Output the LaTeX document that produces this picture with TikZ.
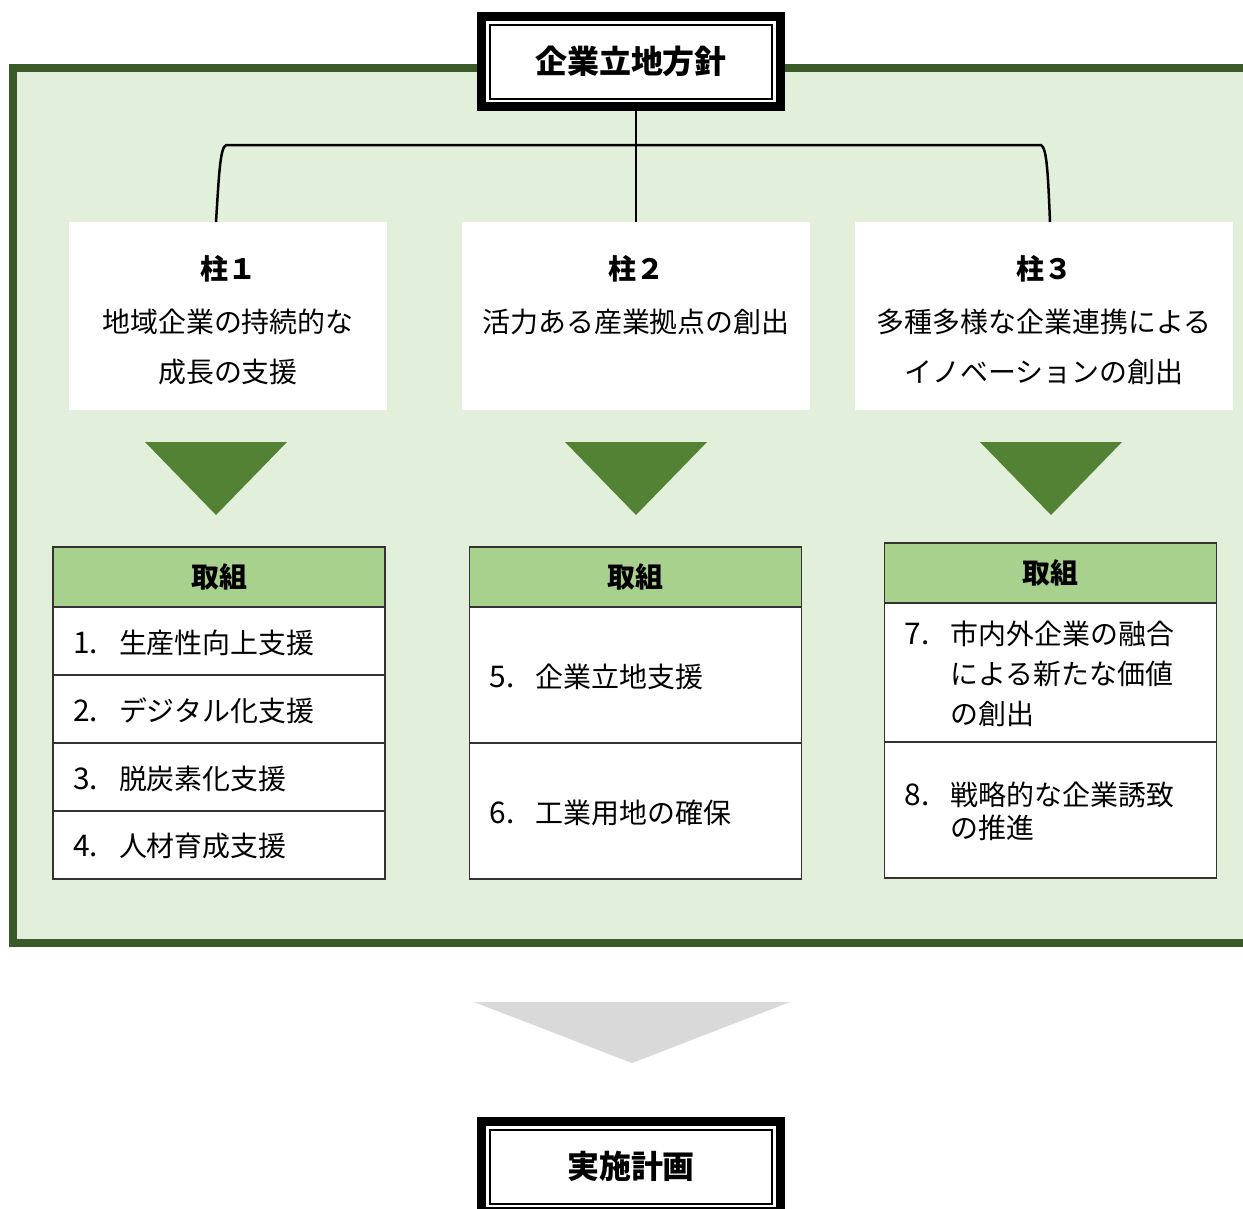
\documentclass[tikz,border=0pt]{standalone}
\usepackage{fontspec}
\setmainfont{Noto Sans CJK JP}
\usetikzlibrary{positioning}

\definecolor{framegreen}{HTML}{3B5A27}
\definecolor{framefill}{HTML}{E2EFDA}
\definecolor{headgreen}{HTML}{A9D18E}
\definecolor{arrowgreen}{HTML}{548235}
\definecolor{arrowgray}{HTML}{D9D9D9}

\newcommand{\numitem}[2]{\raisebox{0pt}[\dimexpr\height+0.2cm][\depth]{%
  \makebox[0.92cm][l]{\fontsize{17}{20}\selectfont #1}\begin{tabular}[t]{@{}l@{}}#2\end{tabular}}}

\tikzset{
  titlebox/.style={draw=black, line width=0.18cm, fill=white, minimum width=5.98cm,
    minimum height=1.8cm, inner sep=0pt, outer sep=0pt, font=\fontsize{18.2}{22}\selectfont\bfseries},
  titleinner/.style={draw=black, line width=0.04cm, minimum width=5.64cm, minimum height=1.48cm, inner sep=0pt},
  pillar/.style={fill=white, minimum width=#1, minimum height=3.76cm, align=center, inner sep=0pt,
    outer sep=0pt, font=\fontsize{15.9}{28.5}\selectfont},
  headbox/.style={draw=black!80, line width=0.03cm, fill=headgreen, minimum width=6.64cm,
    minimum height=1.2cm, outer sep=0pt, font=\fontsize{15.9}{20}\selectfont\bfseries},
  rowbox/.style={draw=black!80, line width=0.03cm, fill=white, minimum height=#1, text width=5.84cm,
    inner xsep=0.4cm, inner ysep=0pt, align=left, outer sep=0pt, font=\fontsize{15.9}{20}\selectfont},
  bracket/.style={draw=black, line width=0.05cm},
  tridown/.style={fill=arrowgreen}
}

\begin{document}
\begin{tikzpicture}[x=0.02cm, y=-0.02cm]
  \useasboundingbox (0,0) rectangle (1243,1208);
  \clip (0,0) rectangle (1243,1208);

  % green frame
  \filldraw[fill=framefill, draw=framegreen, line width=0.15cm] (13,68) rectangle (1275,943);

  % pillars
  \node[pillar=6.36cm] (p1) at (228,316) {\rule{0pt}{0.66cm}\textbf{柱１}\\[1.5pt]地域企業の持続的な\\成長の支援};
  \node[pillar=6.96cm] (p2) at (636,316) {\rule{0pt}{0.66cm}\textbf{柱２}\\[1.5pt]活力ある産業拠点の創出\\\phantom{成}};
  \node[pillar=7.56cm] (p3) at (1044,316) {\rule{0pt}{0.66cm}\textbf{柱３}\\[1.5pt]多種多様な企業連携による\\イノベーションの創出};

  % title
  \node[titlebox] (top) at (631,61.5) {\raisebox{-0.05cm}{企業立地方針}};
  \node[titleinner] (topin) at (top) {};

  % connectors
  \coordinate[xshift=-0.24cm] (b1) at (p1.north);
  \coordinate[xshift=0.12cm] (b3) at (p3.north);
  \coordinate (j1) at (226,145);
  \coordinate (j3) at (1041,145);
  \draw[bracket] (top.south -| p2.north) -- (p2.north);
  \draw[bracket] (b1) .. controls (219,175) and (220,148) .. (j1) -- (j3)
    .. controls (1047,148) and (1048,175) .. (b3);

  % arrows
  \foreach \x in {216,636,1051}
    \fill[tridown] (\x-71,442) -- (\x+71,442) -- (\x,515) -- cycle;

  % pillar 1
  \node[headbox] (h1) at (219,577) {取組};
  \node[rowbox=1.36cm, below=0cm of h1] (r1) {\numitem{1.}{生産性向上支援}};
  \node[rowbox=1.36cm, below=0cm of r1] (r2) {\numitem{2.}{デジタル化支援}};
  \node[rowbox=1.36cm, below=0cm of r2] (r3) {\numitem{3.}{脱炭素化支援}};
  \node[rowbox=1.36cm, below=0cm of r3] (r4) {\numitem{4.}{人材育成支援}};

  % pillar 2
  \node[headbox] (h2) at (635.5,577) {取組};
  \node[rowbox=2.72cm, below=0cm of h2] (r5) {\numitem{5.}{企業立地支援}};
  \node[rowbox=2.72cm, below=0cm of r5] (r6) {\numitem{6.}{工業用地の確保}};

  % pillar 3
  \node[headbox] (h3) at (1050.5,573) {取組};
  \node[rowbox=2.78cm, below=0cm of h3] (r7) {\numitem{7.}{市内外企業の融合\\[2.8pt]による新たな価値\\[2.8pt]の創出}};
  \node[rowbox=2.72cm, below=0cm of r7] (r8) {\numitem{8.}{戦略的な企業誘致\\[-0.8pt]の推進}};

  % to the plan
  \fill[arrowgray] (474,1002) -- (790,1002) -- (632,1063) -- cycle;
  \node[titlebox] (plan) at (631,1166.5) {実施計画};
  \node[titleinner] (planin) at (plan) {};
\end{tikzpicture}
\end{document}
